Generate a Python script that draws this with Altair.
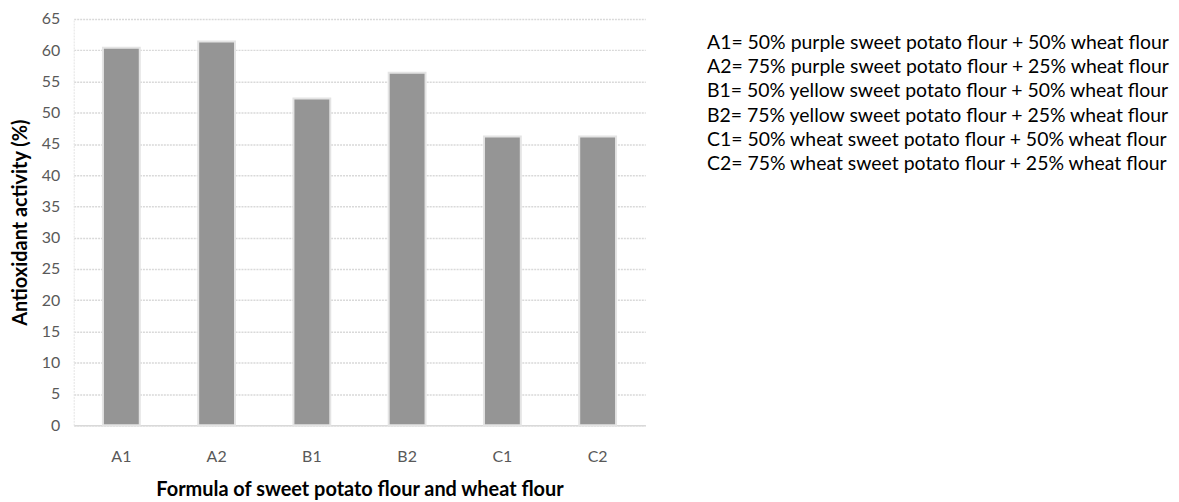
import altair as alt
import pandas as pd

categories = ["A1", "A2", "B1", "B2", "C1", "C2"]
values = [60.4, 61.4, 52.3, 56.4, 46.2, 46.2]
legend_lines = [
    "A1= 50% purple sweet potato flour + 50% wheat flour",
    "A2= 75% purple sweet potato flour + 25% wheat flour",
    "B1= 50% yellow sweet potato flour + 50% wheat flour",
    "B2= 75% yellow sweet potato flour + 25% wheat flour",
    "C1= 50% wheat sweet potato flour + 50% wheat flour",
    "C2= 75% wheat sweet potato flour + 25% wheat flour",
]

FONT = "Lato"

df = pd.DataFrame({"formula": categories, "value": values})
ldf = pd.DataFrame({"idx": list(range(len(legend_lines))), "line": legend_lines})

bars = alt.Chart(df).mark_bar(
    color="#959595", stroke="#e4e4e4", strokeWidth=2, size=37
).encode(
    x=alt.X("formula:N", sort=categories,
            title="Formula of sweet potato flour and wheat flour",
            axis=alt.Axis(labelAngle=0, labelFont=FONT, labelFontSize=16,
                          labelColor="#595959", labelPadding=23,
                          titleFont=FONT, titleFontSize=20, titleFontWeight="bold",
                          titleColor="#000000", titlePadding=16,
                          ticks=False, domainColor="#d9d9d9", domainWidth=1.5)),
    y=alt.Y("value:Q", title="Antioxidant activity (%)",
            scale=alt.Scale(domain=[0, 65]),
            axis=alt.Axis(values=list(range(0, 66, 5)), labelFont=FONT,
                          labelFontSize=16, labelColor="#595959", labelPadding=14,
                          titleFont=FONT, titleFontSize=20, titleFontWeight="bold",
                          titleColor="#000000", titlePadding=11,
                          ticks=False, domainColor="#e4e4e4", domainDash=[2, 1],
                          gridColor="#d9d9d9", gridDash=[2, 1], gridWidth=1.5)),
).properties(width=574, height=408)

legend = alt.Chart(ldf).mark_text(
    align="left", baseline="middle", font=FONT, fontSize=19.5, color="#000000"
).encode(
    x=alt.value(0),
    y=alt.Y("idx:Q", axis=None,
            scale=alt.Scale(domain=[-0.99, 15.8], reverse=True)),
    text="line:N",
).properties(width=420, height=408)

chart = alt.hconcat(bars, legend, spacing=62, bounds="flush").configure_view(
    stroke=None
).properties(padding={"top": 2, "left": 2, "right": 0, "bottom": 0})

chart.save("out.html", embed_options={"renderer": "svg", "actions": False})
